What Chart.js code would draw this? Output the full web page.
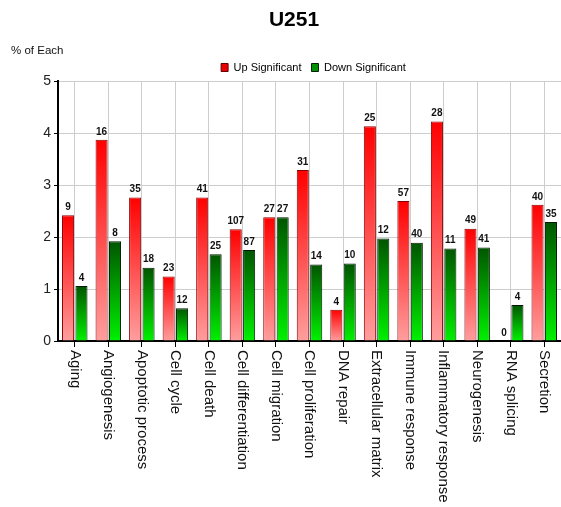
<!DOCTYPE html>
<html>
<head>
<meta charset="utf-8">
<title>U251</title>
<script src="https://cdn.jsdelivr.net/npm/chart.js@4/dist/chart.umd.min.js"></script>
<style>
  html, body { margin: 0; padding: 0; background: #fff; }
  #wrap { width: 561px; height: 507px; }
</style>
</head>
<body>
<div id="wrap"><canvas id="c" width="561" height="507"></canvas></div>
<script>
// Biological process categories
const categories = [
  'Aging', 'Angiogenesis', 'Apoptotic process', 'Cell cycle', 'Cell death',
  'Cell differentiation', 'Cell migration', 'Cell proliferation', 'DNA repair',
  'Extracellular matrix', 'Immune response', 'Inflammatory response',
  'Neurogenesis', 'RNA splicing', 'Secretion'
];

// Percentage of genes in each category
const upPercent   = [2.42, 3.87, 2.76, 1.24, 2.76, 2.15, 2.38, 3.29, 0.60, 4.13, 2.69, 4.22, 2.16, 0.00, 2.62];
const downPercent = [1.06, 1.92, 1.41, 0.63, 1.67, 1.75, 2.38, 1.47, 1.49, 1.97, 1.89, 1.78, 1.80, 0.69, 2.29];

// Gene counts printed above each bar
const upCounts   = [9, 16, 35, 23, 41, 107, 27, 31, 4, 25, 57, 28, 49, 0, 40];
const downCounts = [4, 8, 18, 12, 25, 87, 27, 14, 10, 12, 40, 11, 41, 4, 35];

const yTicks = [0, 1, 2, 3, 4, 5];

// Vertical gradient spanning a single bar, from its top down to the baseline
function barGradient(ctx, topColor, bottomColor) {
  const chart = ctx.chart;
  const yScale = chart.scales.y;
  if (!chart.chartArea || !yScale || ctx.raw === undefined) return topColor;
  const yTop = yScale.getPixelForValue(ctx.raw);
  const yBase = yScale.getPixelForValue(0);
  if (Math.abs(yBase - yTop) < 1) return topColor;
  const g = chart.ctx.createLinearGradient(0, yTop, 0, yBase);
  g.addColorStop(0, topColor);
  g.addColorStop(1, bottomColor);
  return g;
}

// Count labels over the bars, rotated category names, and the y caption
const annotations = {
  id: 'annotations',
  afterLayout(chart) {
    // nudge the title and legend to their spots above the plot
    const t = chart.titleBlock, l = chart.legend;
    if (t) { t.left += 13.5; t.right += 13.5; }
    if (l) { l.left += 33; l.right += 33; l.top += 2; l.bottom += 2; }
  },
  afterDatasetsDraw(chart) {
    const ctx = chart.ctx;
    const counts = [upCounts, downCounts];
    ctx.save();
    ctx.font = 'bold 10px "Liberation Sans", Arial, sans-serif';
    ctx.fillStyle = '#111';
    ctx.textAlign = 'center';
    ctx.textBaseline = 'bottom';
    chart.data.datasets.forEach((ds, di) => {
      const meta = chart.getDatasetMeta(di);
      meta.data.forEach((bar, i) => {
        ctx.fillText(String(counts[di][i]), bar.x, bar.y - 3);
      });
    });
    ctx.restore();
  },
  afterDraw(chart) {
    const ctx = chart.ctx;
    const xs = chart.scales.x;
    ctx.save();
    ctx.fillStyle = '#111';
    ctx.font = '15px "Liberation Sans", Arial, sans-serif';
    ctx.textAlign = 'left';
    ctx.textBaseline = 'middle';
    categories.forEach((label, i) => {
      const x = xs.getPixelForTick(i);
      ctx.save();
      ctx.translate(x, xs.top + 9);
      ctx.rotate(Math.PI / 2);
      ctx.fillText(label, 0, 0);
      ctx.restore();
    });
    ctx.font = '11.5px "Liberation Sans", Arial, sans-serif';
    ctx.textBaseline = 'middle';
    ctx.fillText('% of Each', 11, 50.5);
    ctx.restore();
  }
};

new Chart(document.getElementById('c'), {
  type: 'bar',
  data: {
    labels: categories,
    datasets: [
      {
        label: 'Up Significant',
        data: upPercent,
        backgroundColor: (ctx) => barGradient(ctx, '#ff0000', '#ff9e9e'),
        borderColor: '#8a0000',
        borderWidth: 1,
        categoryPercentage: 0.8,
        barPercentage: 0.9
      },
      {
        label: 'Down Significant',
        data: downPercent,
        backgroundColor: (ctx) => barGradient(ctx, '#005500', '#00f000'),
        borderColor: '#001800',
        borderWidth: 1,
        categoryPercentage: 0.8,
        barPercentage: 0.9
      }
    ]
  },
  options: {
    responsive: false,
    animation: false,
    devicePixelRatio: 1,
    layout: { padding: 0 },
    plugins: {
      title: {
        display: true,
        text: 'U251',
        color: '#000',
        font: { family: '"Liberation Sans", Arial, sans-serif', size: 21, weight: 'bold' },
        padding: { top: 8, bottom: 16.8 }
      },
      legend: {
        display: true,
        position: 'top',
        labels: {
          boxWidth: 7,
          boxHeight: 8,
          padding: 10,
          color: '#111',
          font: { family: '"Liberation Sans", Arial, sans-serif', size: 11 },
          generateLabels: () => [
            { text: 'Up Significant', fillStyle: '#e80000', strokeStyle: '#600000', lineWidth: 1, datasetIndex: 0 },
            { text: 'Down Significant', fillStyle: '#009000', strokeStyle: '#002000', lineWidth: 1, datasetIndex: 1 }
          ]
        }
      },
      tooltip: { enabled: false }
    },
    scales: {
      x: {
        grid: {
          offset: false,
          color: '#cdcdcd',
          lineWidth: 1,
          tickColor: '#000',
          tickLength: 6
        },
        border: { color: '#000', width: 2 },
        ticks: { display: false },
        afterFit(scale) { scale.height = 166; }
      },
      y: {
        min: 0,
        max: 5,
        afterBuildTicks(scale) { scale.ticks = yTicks.map(v => ({ value: v })); },
        grid: {
          color: '#cdcdcd',
          lineWidth: 1,
          tickColor: '#000',
          tickLength: 4
        },
        border: { color: '#000', width: 2 },
        ticks: {
          padding: 3,
          color: '#222',
          font: { family: '"Liberation Sans", Arial, sans-serif', size: 14 }
        },
        afterFit(scale) { scale.width = 58; }
      }
    }
  },
  plugins: [annotations]
});
</script>
</body>
</html>
